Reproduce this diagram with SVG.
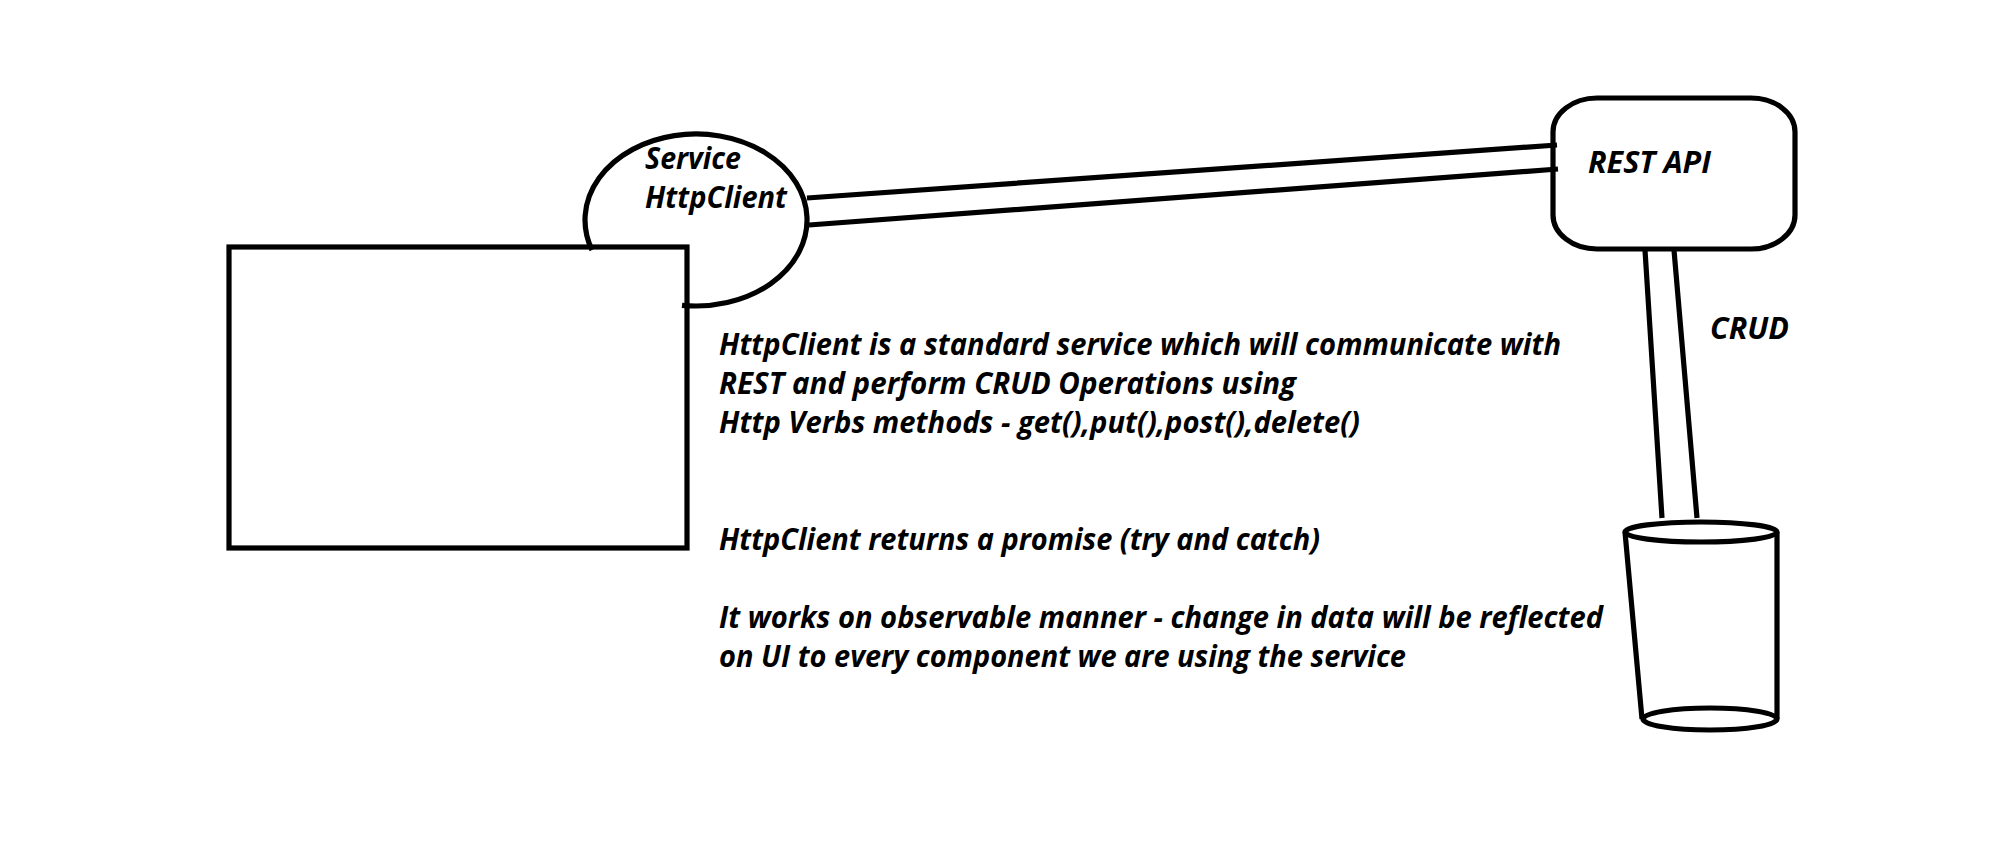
<svg xmlns="http://www.w3.org/2000/svg" width="1998" height="858" viewBox="0 0 1998 858">
<style>
.s{fill:none;stroke:#000;stroke-width:5.2}
.t{font-family:"Open Sans","Noto Sans","Liberation Sans",sans-serif;font-weight:700;font-style:italic;font-size:30px;fill:#000}
</style>
<rect width="1998" height="858" fill="#fff"/>
<g id="component"><rect class="s" x="229" y="247" width="458" height="301"/></g>
<g id="service">
<path class="s" d="M592 250A111 86 0 1 1 682 305.3"/>
<text class="t" x="645" y="169" textLength="96" lengthAdjust="spacingAndGlyphs">Service</text>
<text class="t" x="645" y="208" textLength="142" lengthAdjust="spacingAndGlyphs">HttpClient</text>
</g>
<g id="rest-api">
<rect class="s" x="1553" y="98" width="242" height="151" rx="44" ry="34"/>
<text class="t" x="1588" y="173" textLength="123" lengthAdjust="spacingAndGlyphs">REST API</text>
</g>
<g id="database">
<ellipse class="s" cx="1701" cy="532" rx="76" ry="10"/>
<ellipse class="s" cx="1710" cy="719" rx="67" ry="11"/>
<path class="s" d="M1625 532L1642 719M1777 532V719"/>
</g>
<g id="connectors">
<path class="s" d="M807 198L1557 145M809 225L1558 169M1645 250L1662 518M1674 250L1697 518"/>
</g>
<g id="labels">
<text class="t" x="1710" y="339" textLength="79" lengthAdjust="spacingAndGlyphs">CRUD</text>
<text class="t" x="719" y="355" textLength="842" lengthAdjust="spacingAndGlyphs">HttpClient is a standard service which will communicate with</text>
<text class="t" x="719" y="394" textLength="577" lengthAdjust="spacingAndGlyphs">REST and perform CRUD Operations using</text>
<text class="t" x="719" y="433" textLength="641" lengthAdjust="spacingAndGlyphs">Http Verbs methods - get(),put(),post(),delete()</text>
<text class="t" x="719" y="550" textLength="601" lengthAdjust="spacingAndGlyphs">HttpClient returns a promise (try and catch)</text>
<text class="t" x="719" y="628" textLength="884" lengthAdjust="spacingAndGlyphs">It works on observable manner - change in data will be reflected</text>
<text class="t" x="719" y="667" textLength="687" lengthAdjust="spacingAndGlyphs">on UI to every component we are using the service</text>
</g>
</svg>
